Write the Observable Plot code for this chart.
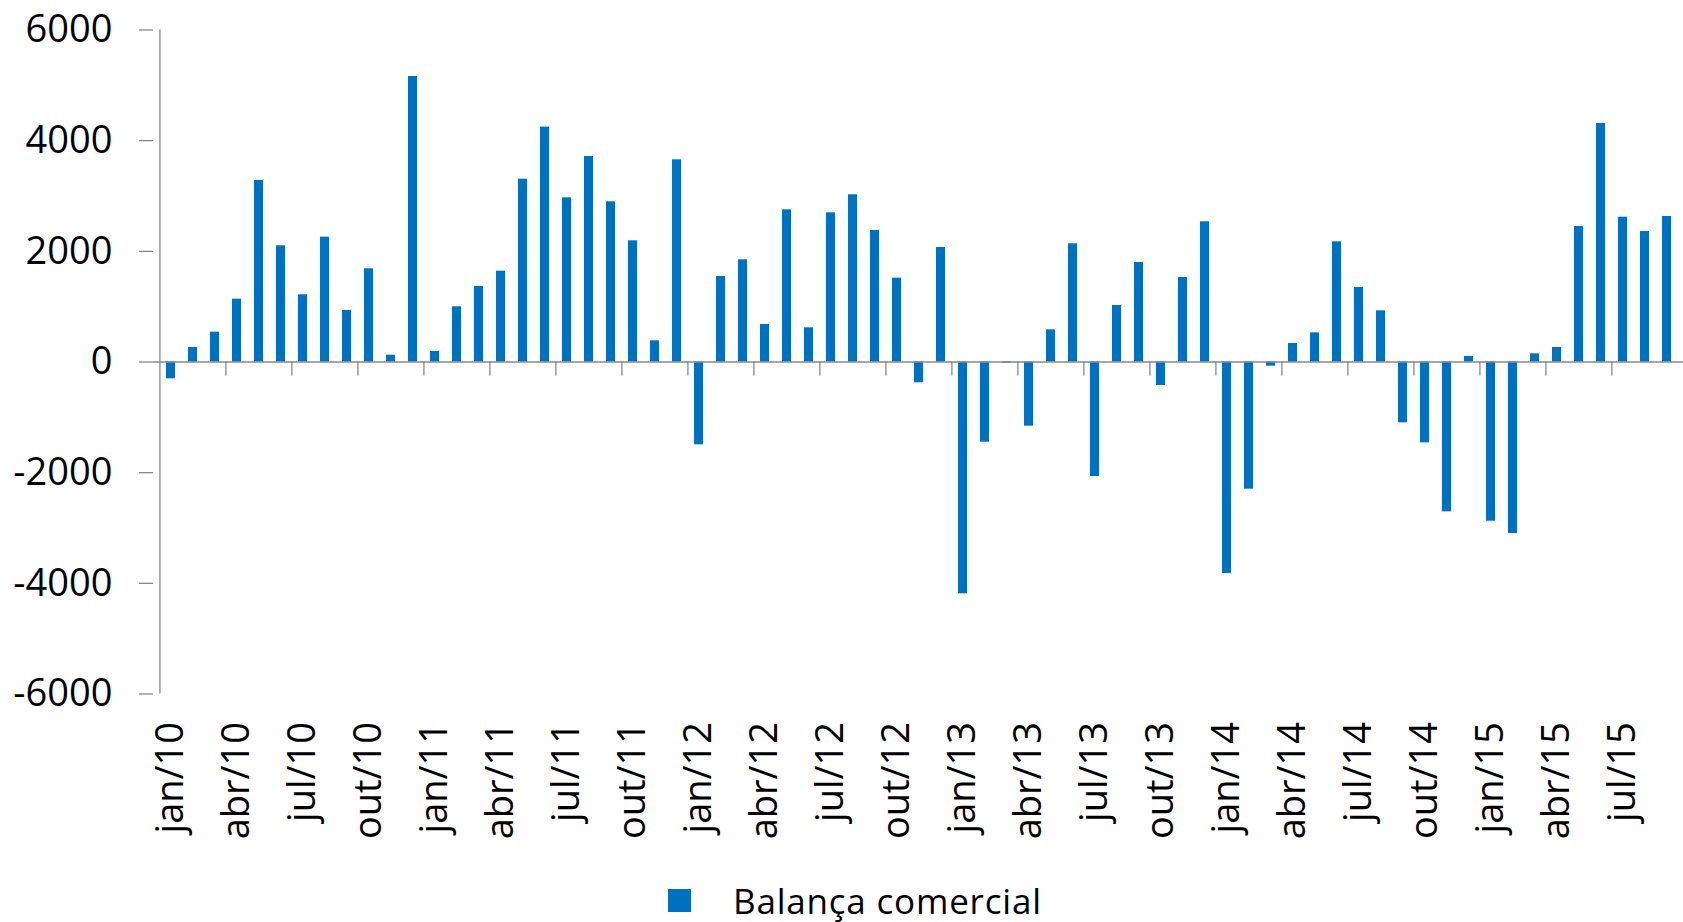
<!DOCTYPE html>
<html>
<head>
<meta charset="utf-8">
<script src="https://cdn.jsdelivr.net/npm/d3@7"></script>
<script src="https://cdn.jsdelivr.net/npm/@observablehq/plot@0.6"></script>
<style>
  html, body { margin: 0; padding: 0; background: #fff; }
  body { font-family: "Open Sans", sans-serif; width: 1683px; }
  #legend { display: flex; align-items: center; height: 60px; padding-left: 668px; font-size: 35px; line-height: 1; letter-spacing: 0.8px; color: #000; }
  #legend .sw { width: 23px; height: 23px; background: #0070C0; margin-right: 42px; flex: none; }
</style>
</head>
<body>
<div id="chart"></div>
<div id="legend"><span class="sw"></span><span>Balança comercial</span></div>
<script>
// Category names
const monthNames = ["jan","fev","mar","abr","mai","jun","jul","ago","set","out","nov","dez"];
const yearSuffixes = ["10","11","12","13","14","15"];
const lastMonthIndex2015 = 8; // series ends in set/15

const months = [];
yearSuffixes.forEach((yy, yi) => {
  monthNames.forEach((m, mi) => {
    if (yi < yearSuffixes.length - 1 || mi <= lastMonthIndex2015) months.push(`${m}/${yy}`);
  });
});

// Balança comercial (monthly values)
const balanca = [
  // 2010
  -304, 262, 539, 1135, 3280, 2100, 1214, 2256, 931, 1684, 123, 5160,
  // 2011
  190, 998, 1365, 1641, 3304, 4244, 2967, 3714, 2895, 2190, 383, 3654,
  // 2012
  -1497, 1545, 1847, 678, 2750, 618, 2696, 3022, 2377, 1515, -376, 2069,
  // 2013
  -4190, -1449, -20, -1160, 582, 2136, -2069, 1021, 1798, -425, 1527, 2534,
  // 2014
  -3823, -2298, -75, 334, 527, 2172, 1346, 925, -1099, -1461, -2708, 99,
  // 2015
  -2877, -3100, 148, 262, 2449, 4310, 2617, 2358, 2630
];

// Axis tick labels
const yTicks = [-6000, -4000, -2000, 0, 2000, 4000, 6000];
const xTickLabels = months.filter((d, i) => i % 3 === 0);
const boundaryMonths = months.filter((d, i) => i % 3 === 0 && i > 0);

const data = months.map((m, i) => ({month: m, value: balanca[i]}));

const W = 1683, H = 870;
const mL = 153, mR = 0, mT = 29.5, mB = 176.5;
const step = (W - mL - mR) / months.length;
const axisGray = "#898989";
const barColor = "#0070C0";

const chart = Plot.plot({
  width: W,
  height: H,
  marginLeft: mL,
  marginRight: mR,
  marginTop: mT,
  marginBottom: mB,
  style: {fontFamily: "'Open Sans', sans-serif", background: "#fff", color: "#000"},
  x: {type: "band", domain: months, paddingInner: 0.6, paddingOuter: 0.3, label: null},
  y: {domain: [-6000, 6000], label: null},
  marks: [
    Plot.axisY({
      ticks: yTicks,
      tickFormat: d => String(d),
      tickSize: 14,
      tickPadding: 27,
      fontSize: 38,
      stroke: axisGray,
      strokeWidth: 1.3,
      strokeOpacity: 1,
      fill: "#000",
      label: null
    }),
    Plot.axisX({
      ticks: xTickLabels,
      tickSize: 0,
      tickPadding: 28,
      tickRotate: -90,
      fontSize: 38,
      fill: "#000",
      label: null
    }),
    // vertical axis line at the left edge of the first category
    Plot.ruleX([months[0]], {x: d => d, y1: -6000, y2: 6000, dx: -step / 2, stroke: axisGray, strokeWidth: 1.3}),
    // category tick marks every 3 months, hanging below the zero line
    Plot.ruleX(boundaryMonths, {x: d => d, y1: 0, y2: 0, insetBottom: -14, dx: -step / 2, stroke: axisGray, strokeWidth: 1.3}),
    Plot.barY(data, {x: "month", y: "value", fill: barColor}),
    Plot.ruleY([0], {stroke: axisGray, strokeWidth: 1.5})
  ]
});

document.getElementById("chart").appendChild(chart);
</script>
</body>
</html>
